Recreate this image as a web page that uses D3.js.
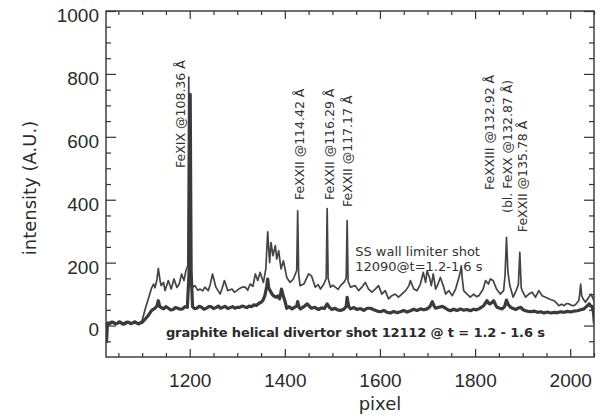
<!DOCTYPE html>
<html>
<head>
<meta charset="utf-8">
<script src="https://cdn.jsdelivr.net/npm/d3@7"></script>
<style>
    body { margin: 0; background: #fff; }
    svg  { font-family: 'DejaVu Sans', sans-serif; }
    .axis path { display: none; }
    .axis line { stroke: #333; stroke-width: 1.2; }
    .axis text { fill: #2a2a2a; font-size: 19px; }
</style>
</head>
<body>
<div id="graph"></div>
<script>

// SS wall limiter shot 12090 (upper, thin trace)
var ssPixel = [ 1024, 1032, 1040, 1048, 1056, 1064, 1072, 1080, 1088, 1096, 1100, 1106, 1113, 1120, 1124, 1127,
                1131, 1134, 1138, 1140, 1145, 1148, 1155, 1161, 1167, 1173, 1178, 1183, 1188, 1192, 1196, 1198,
                1200, 1206, 1211, 1217, 1222, 1227, 1232, 1239, 1243, 1248, 1255, 1264, 1268, 1273, 1280, 1289,
                1294, 1299, 1305, 1310, 1317, 1322, 1327, 1333, 1338, 1343, 1348, 1355, 1360, 1364, 1368, 1371,
                1375, 1380, 1383, 1387, 1392, 1397, 1404, 1411, 1418, 1422, 1425, 1427, 1429, 1432, 1440, 1450,
                1456, 1464, 1470, 1475, 1482, 1487, 1489, 1491, 1496, 1501, 1506, 1512, 1517, 1524, 1529, 1531,
                1533, 1538, 1548, 1555, 1562, 1569, 1576, 1583, 1590, 1597, 1604, 1611, 1618, 1625, 1632, 1639,
                1646, 1654, 1661, 1664, 1671, 1678, 1685, 1691, 1696, 1699, 1704, 1708, 1712, 1717, 1722, 1727,
                1733, 1738, 1745, 1752, 1759, 1766, 1769, 1771, 1773, 1776, 1783, 1790, 1797, 1803, 1808, 1817,
                1822, 1828, 1832, 1838, 1845, 1853, 1860, 1863, 1866, 1869, 1873, 1880, 1885, 1891, 1894, 1897,
                1899, 1906, 1913, 1920, 1927, 1934, 1941, 1948, 1955, 1960, 1966, 1971, 1976, 1982, 1987, 1992,
                1997, 2003, 2008, 2013, 2018, 2020, 2022, 2024, 2027, 2032, 2039, 2044, 2051 ];

var ssValue = [ 8, 10, 7, 9, 6, 10, 8, 9, 7, 10, 16, 50, 85, 120, 132, 120,
                145, 182, 140, 127, 137, 111, 143, 116, 148, 121, 132, 164, 143, 174, 190, 790,
                190, 122, 127, 112, 116, 110, 122, 111, 130, 164, 122, 100, 118, 143, 111, 116,
                106, 111, 118, 122, 122, 112, 132, 125, 164, 143, 169, 137, 180, 298, 200, 264,
                222, 254, 211, 238, 180, 206, 153, 137, 148, 164, 175, 365, 165, 127, 132, 164,
                158, 122, 130, 116, 132, 150, 372, 150, 122, 128, 122, 115, 127, 137, 150, 334,
                140, 122, 127, 111, 122, 137, 116, 106, 116, 127, 100, 111, 85, 95, 100, 90,
                100, 111, 127, 143, 116, 111, 132, 169, 137, 174, 153, 127, 164, 116, 132, 153,
                127, 100, 111, 95, 116, 153, 170, 190, 150, 111, 100, 90, 100, 92, 95, 116,
                143, 132, 148, 143, 116, 100, 111, 160, 280, 170, 127, 90, 106, 130, 233, 120,
                111, 90, 100, 106, 90, 111, 95, 90, 85, 82, 79, 72, 63, 68, 63, 70,
                69, 64, 63, 70, 79, 100, 132, 95, 85, 74, 90, 100, 74 ];

// graphite helical divertor shot 12112 (lower, thick trace)
var grPixel = [ 1025, 1027, 1032, 1036, 1040, 1044, 1048, 1052, 1056, 1060, 1064, 1068, 1072, 1076, 1080, 1084,
                1088, 1092, 1096, 1100, 1106, 1113, 1120, 1127, 1131, 1134, 1137, 1140, 1145, 1150, 1155, 1160,
                1165, 1170, 1175, 1180, 1185, 1190, 1195, 1199, 1201, 1203, 1206, 1210, 1215, 1220, 1225, 1230,
                1235, 1240, 1245, 1250, 1255, 1260, 1265, 1270, 1275, 1280, 1285, 1290, 1295, 1300, 1305, 1310,
                1315, 1320, 1325, 1330, 1335, 1340, 1345, 1350, 1354, 1358, 1362, 1364, 1366, 1369, 1373, 1376,
                1381, 1385, 1389, 1393, 1396, 1400, 1404, 1409, 1415, 1420, 1425, 1427, 1430, 1433, 1440, 1447,
                1451, 1456, 1463, 1471, 1477, 1483, 1489, 1494, 1499, 1505, 1511, 1517, 1524, 1529, 1531, 1534,
                1538, 1545, 1552, 1559, 1566, 1573, 1580, 1587, 1594, 1601, 1608, 1615, 1622, 1629, 1636, 1643,
                1650, 1657, 1664, 1671, 1678, 1685, 1692, 1699, 1705, 1710, 1714, 1717, 1724, 1731, 1738, 1743,
                1748, 1755, 1762, 1769, 1776, 1783, 1790, 1797, 1803, 1808, 1813, 1818, 1825, 1829, 1832, 1836,
                1839, 1843, 1846, 1852, 1857, 1862, 1866, 1870, 1875, 1880, 1885, 1890, 1896, 1901, 1906, 1912,
                1918, 1924, 1931, 1938, 1945, 1952, 1959, 1966, 1973, 1980, 1987, 1994, 2001, 2008, 2015, 2022,
                2029, 2034, 2040, 2043, 2046, 2049, 2051 ];

var grValue = [ -55, 8, 6, 11, 10, 5, 7, 12, 9, 4, 6, 11, 10, 6, 8, 12,
                9, 5, 8, 10, 20, 32, 48, 55, 62, 79, 60, 58, 53, 60, 55, 50,
                51, 57, 55, 52, 53, 60, 58, 180, 735, 170, 60, 54, 55, 61, 58, 52,
                55, 60, 60, 54, 57, 62, 55, 58, 61, 54, 57, 60, 55, 58, 58, 62,
                60, 57, 62, 60, 66, 64, 70, 74, 80, 95, 125, 148, 120, 111, 100, 95,
                90, 94, 85, 116, 98, 79, 55, 60, 53, 58, 62, 76, 58, 53, 60, 69,
                62, 55, 58, 51, 56, 54, 69, 57, 51, 55, 50, 48, 52, 60, 90, 62,
                53, 57, 51, 54, 48, 55, 55, 50, 46, 44, 48, 42, 40, 45, 41, 44,
                48, 43, 47, 52, 48, 53, 50, 53, 60, 76, 62, 55, 58, 61, 55, 50,
                47, 52, 48, 53, 49, 51, 47, 52, 50, 53, 58, 63, 79, 70, 69, 74,
                79, 66, 58, 55, 53, 60, 81, 66, 58, 54, 51, 55, 58, 50, 47, 45,
                44, 46, 42, 44, 40, 43, 40, 42, 41, 44, 42, 45, 43, 46, 47, 50,
                53, 60, 69, 62, 61, 40, 5 ];

// y axis ticks and x axis ticks
var yTickLabels = [ 0, 200, 400, 600, 800, 1000 ];
var yMinorTicks = [ -50, 50, 100, 150, 250, 300, 350, 450, 500, 550, 650, 700, 750, 850, 900, 950 ];
var xTickLabels = [ 1200, 1400, 1600, 1800, 2000 ];
var xMinorTicks = [ 1050, 1100, 1150, 1250, 1300, 1350, 1450, 1500, 1550, 1650, 1700, 1750, 1850, 1900, 1950, 2050 ];

// line identifications: text, pixel of the column, intensity where the text starts
var lineNames  = [ 'FeXIX @108.36 Å', 'FeXXII @114.42 Å', 'FeXXII @116.29 Å', 'FeXXII @117.17 Å',
                   'FeXXIII @132.92 Å', '(bl. FeXX @132.87 Å)', 'FeXXII @135.78 Å' ];
var linePixel  = [ 1180, 1432, 1495, 1533, 1830, 1869, 1899 ];
var lineStart  = [ 501, 399, 399, 377, 431, 358, 297 ];


function D3App ()
{
    var margin = { top: 11, right: 15, bottom: 63, left: 106 };
    var width  = 609 - margin.left - margin.right;
    var height = 420 - margin.top  - margin.bottom;

    var svg = d3.select ('#graph')
                .append ('svg')
                .attr ('width', 609)
                .attr ('height', 420)
                .append ('g')
                .attr ('transform', 'translate(' + margin.left + ',' + margin.top + ')');

    var xScale = d3.scaleLinear ()
                   .domain ([ 1024, 2050 ])
                   .range ([ 0, width ]);

    var yScale = d3.scaleLinear ()
                   .domain ([ -100, 1000 ])
                   .range ([ height, 0 ]);

    // major ticks point inward, minor ticks are half as long
    svg.append ('g')
       .attr ('class', 'axis')
       .attr ('transform', 'translate(0,' + height + ')')
       .call (d3.axisBottom (xScale).tickValues (xTickLabels).tickSize (-8).tickPadding (17).tickFormat (d3.format ('d')));

    svg.append ('g')
       .attr ('class', 'axis')
       .attr ('transform', 'translate(0,' + height + ')')
       .call (d3.axisBottom (xScale).tickValues (xMinorTicks).tickSize (-4).tickFormat (''));

    svg.append ('g')
       .attr ('class', 'axis')
       .call (d3.axisTop (xScale).tickValues (xTickLabels).tickSize (-8).tickFormat (''));

    svg.append ('g')
       .attr ('class', 'axis')
       .call (d3.axisTop (xScale).tickValues (xMinorTicks).tickSize (-4).tickFormat (''));

    var yAxisG = svg.append ('g')
                    .attr ('class', 'axis')
                    .call (d3.axisLeft (yScale).tickValues (yTickLabels).tickSize (-10).tickPadding (7).tickFormat (d3.format ('d')));
    yAxisG.selectAll ('text').attr ('dy', '0.55em');

    svg.append ('g')
       .attr ('class', 'axis')
       .call (d3.axisLeft (yScale).tickValues (yMinorTicks).tickSize (-5).tickFormat (''));

    svg.append ('g')
       .attr ('class', 'axis')
       .attr ('transform', 'translate(' + width + ',0)')
       .call (d3.axisRight (yScale).tickValues (yTickLabels).tickSize (-10).tickFormat (''));

    svg.append ('g')
       .attr ('class', 'axis')
       .attr ('transform', 'translate(' + width + ',0)')
       .call (d3.axisRight (yScale).tickValues (yMinorTicks).tickSize (-5).tickFormat (''));

    // frame
    svg.append ('rect')
       .attr ('width', width)
       .attr ('height', height)
       .style ('fill', 'none')
       .style ('stroke', '#333')
       .style ('stroke-width', 1.4);

    svg.append ('clipPath').attr ('id', 'plotClip')
       .append ('rect').attr ('width', width).attr ('height', height);

    var line = d3.line ()
                 .x (function (d) { return xScale (d[0]); })
                 .y (function (d) { return yScale (d[1]); });

    var ssData = ssPixel.map (function (p, i) { return [ p, ssValue[i] ]; });
    var grData = grPixel.map (function (p, i) { return [ p, grValue[i] ]; });

    svg.append ('path')
       .datum (ssData)
       .attr ('clip-path', 'url(#plotClip)')
       .attr ('d', line)
       .style ('fill', 'none')
       .style ('stroke', '#444')
       .style ('stroke-width', 1.7)
       .style ('stroke-linejoin', 'round');

    svg.append ('path')
       .datum (grData)
       .attr ('clip-path', 'url(#plotClip)')
       .attr ('d', line)
       .style ('fill', 'none')
       .style ('stroke', '#3a3a3a')
       .style ('stroke-width', 3.2)
       .style ('stroke-linejoin', 'round');

    // vertical line identifications
    lineNames.forEach (function (name, i)
    {
        var px = xScale (linePixel[i]);
        var py = yScale (lineStart[i]);
        svg.append ('text')
           .attr ('transform', 'translate(' + px + ',' + py + ') rotate(-90)')
           .attr ('dy', '0.35em')
           .style ('font-size', '12.5px')
           .style ('fill', '#333')
           .text (name);
    });

    // shot captions
    svg.append ('text')
       .attr ('x', xScale (1548))
       .attr ('y', yScale (220))
       .style ('font-size', '13px')
       .style ('fill', '#333')
       .text ('SS wall limiter shot');

    svg.append ('text')
       .attr ('x', xScale (1548))
       .attr ('y', yScale (173))
       .style ('font-size', '13px')
       .style ('fill', '#333')
       .text ('12090@t=1.2-1.6 s');

    svg.append ('text')
       .attr ('x', xScale (1150))
       .attr ('y', yScale (-35))
       .attr ('textLength', 379)
       .style ('font-size', '13px')
       .style ('font-weight', 'bold')
       .style ('fill', '#2a2a2a')
       .text ('graphite helical divertor shot 12112 @ t = 1.2 - 1.6 s');

    // axis titles
    svg.append ('text')
       .attr ('transform', 'translate(' + (-70) + ',' + (height / 2 + 4) + ') rotate(-90)')
       .attr ('text-anchor', 'middle')
       .style ('font-size', '18px')
       .style ('fill', '#2a2a2a')
       .text ('intensity (A.U.)');

    svg.append ('text')
       .attr ('x', xScale (1600))
       .attr ('y', height + 53)
       .attr ('text-anchor', 'middle')
       .style ('font-size', '18px')
       .style ('fill', '#2a2a2a')
       .text ('pixel');
}

D3App ();

</script>
</body>
</html>
